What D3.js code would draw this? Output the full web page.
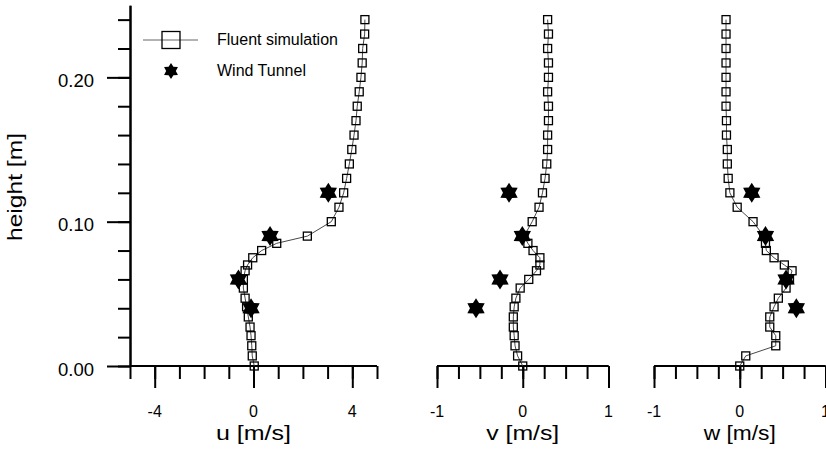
<!DOCTYPE html>
<html><head><meta charset="utf-8">
<script src="https://cdn.jsdelivr.net/npm/d3@7"></script>
<style>
body{margin:0;background:#fff}
svg{display:block;font-family:"Liberation Sans",Arial,Helvetica,sans-serif}
</style>
</head><body>
<svg id="chart" width="826" height="453"></svg>
<script>
// ---- data ----
const heights = [0, 0.007, 0.014, 0.021, 0.027, 0.034, 0.041, 0.047, 0.054, 0.060, 0.066, 0.070, 0.075, 0.080, 0.085, 0.090,
  0.10, 0.11, 0.12, 0.13, 0.14, 0.15, 0.16, 0.17, 0.18, 0.19, 0.20, 0.21, 0.22, 0.23, 0.24];
const uSim = [0.03, -0.05, -0.07, -0.10, -0.14, -0.21, -0.28, -0.34, -0.41, -0.41, -0.34, -0.24, -0.03, 0.33, 0.94, 2.18,
  3.15, 3.46, 3.65, 3.77, 3.88, 3.98, 4.07, 4.15, 4.20, 4.28, 4.35, 4.40, 4.42, 4.50, 4.51];
const vSim = [0.0, -0.06, -0.09, -0.10, -0.11, -0.11, -0.10, -0.08, -0.03, 0.07, 0.16, 0.20, 0.20, 0.12, 0.06, 0.015,
  0.11, 0.19, 0.23, 0.26, 0.28, 0.29, 0.29, 0.30, 0.30, 0.29, 0.30, 0.30, 0.29, 0.30, 0.29];
const wSim = [0.0, 0.07, 0.42, 0.42, 0.35, 0.35, 0.40, 0.45, 0.54, 0.58, 0.61, 0.52, 0.40, 0.31, 0.30, 0.28,
  0.155, -0.03, -0.115, -0.135, -0.145, -0.145, -0.155, -0.155, -0.16, -0.16, -0.16, -0.16, -0.16, -0.16, -0.16];
const tunnelHeights = [0.12, 0.09, 0.06, 0.04];
const uTunnel = [3.03, 0.67, -0.61, -0.10];
const vTunnel = [-0.16, -0.005, -0.265, -0.545];
const wTunnel = [0.14, 0.30, 0.54, 0.66];
const yTicksMajor = [0, 0.1, 0.2];
const yTickLabels = ["0.00", "0.10", "0.20"];
const yTicksMinor = d3.range(0, 0.2401, 0.02);
const uTicksMinor = d3.range(-5, 5.01, 1);
const uTicksMajor = [-4, 0, 4];
const uTickLabels = ["-4", "0", "4"];
const vwTicksMinor = d3.range(-1, 1.001, 0.25);
const vwTicksMajor = [-1, 0, 1];
const vwTickLabels = ["-1", "0", "1"];
const legendLabels = ["Fluent simulation", "Wind Tunnel"];

// ---- layout ----
const svg = d3.select("#chart");
const y = d3.scaleLinear().domain([0, 0.25]).range([366, 5.2]);
const panels = [
  {sim: uSim, tun: uTunnel, dom: [-5, 5], range: [130, 377], minor: uTicksMinor, major: uTicksMajor, labels: uTickLabels, title: "u [m/s]", tl: 75},
  {sim: vSim, tun: vTunnel, dom: [-1, 1], range: [437, 608.5], minor: vwTicksMinor, major: vwTicksMajor, labels: vwTickLabels, title: "v [m/s]", tl: 73},
  {sim: wSim, tun: wTunnel, dom: [-1, 1], range: [654, 825.5], minor: vwTicksMinor, major: vwTicksMajor, labels: vwTickLabels, title: "w [m/s]", tl: 72}
];

function hexagram(R) {
  const r = R / Math.sqrt(3) * 1.05;
  const pts = [];
  for (let i = 0; i < 12; i++) {
    const a = -Math.PI / 2 + i * Math.PI / 6;
    const rad = i % 2 === 0 ? R : r;
    pts.push([rad * Math.cos(a), rad * Math.sin(a)]);
  }
  return "M" + pts.map(p => p[0].toFixed(2) + "," + p[1].toFixed(2)).join("L") + "Z";
}

// y axis (panel 1 only)
const yAxisMinor = d3.axisLeft(y).tickValues(yTicksMinor).tickSize(12).tickSizeOuter(0).tickFormat("");
const yAxisMajor = d3.axisLeft(y).tickValues(yTicksMajor).tickSize(23).tickSizeOuter(0).tickFormat("");
const gy = svg.append("g").attr("transform", "translate(130,0)");
gy.call(yAxisMinor);
gy.append("g").call(yAxisMajor);
gy.selectAll("path,line").attr("stroke", "#000").attr("stroke-width", 2);
svg.selectAll(".ylab").data(yTicksMajor).enter().append("text")
  .attr("x", 94).attr("y", d => y(d) + 9.5)
  .attr("text-anchor", "end").attr("font-size", 18.5).attr("fill", "#000")
  .text((d, i) => yTickLabels[i]);
svg.append("text").attr("transform", "translate(22,187) rotate(-90)")
  .attr("text-anchor", "middle").attr("font-size", 21).attr("fill", "#000")
  .attr("textLength", 108).attr("lengthAdjust", "spacingAndGlyphs")
  .text("height [m]");

panels.forEach((p, pi) => {
  const x = d3.scaleLinear().domain(p.dom).range(p.range);
  const g = svg.append("g").attr("transform", "translate(0,366)");
  g.call(d3.axisBottom(x).tickValues(p.minor).tickSize(13).tickSizeOuter(0).tickFormat(""));
  g.append("g").call(d3.axisBottom(x).tickValues(p.major).tickSize(22).tickSizeOuter(0).tickFormat(""));
  g.selectAll("path,line").attr("stroke", "#000").attr("stroke-width", 2);
  g.selectAll("path.domain").attr("d", `M${p.range[0]},0H${p.range[1]}`);
  svg.append("g").selectAll("text").data(p.major).enter().append("text")
    .attr("x", d => x(d)).attr("y", 417)
    .attr("text-anchor", "middle").attr("font-size", 16).attr("fill", "#000")
    .text((d, i) => p.labels[i]);
  svg.append("text").attr("x", x(0)).attr("y", 440)
    .attr("text-anchor", "middle").attr("font-size", 20).attr("fill", "#000")
    .attr("textLength", p.tl).attr("lengthAdjust", "spacingAndGlyphs")
    .text(p.title);

  const pts = heights.map((h, i) => [x(p.sim[i]), y(h)]);
  svg.append("path").attr("d", d3.line()(pts))
    .attr("fill", "none").attr("stroke", "#333").attr("stroke-width", 0.9);
  svg.append("g").selectAll("rect").data(pts).enter().append("rect")
    .attr("x", d => d[0] - 4).attr("y", d => d[1] - 4)
    .attr("width", 8).attr("height", 8)
    .attr("fill", "none").attr("stroke", "#000").attr("stroke-width", 1.3);
  svg.append("g").selectAll("path").data(tunnelHeights).enter().append("path")
    .attr("d", hexagram(10))
    .attr("transform", (h, i) => `translate(${x(p.tun[i])},${y(h)})`)
    .attr("fill", "#000");
});

// legend
const lg = svg.append("g");
lg.append("line").attr("x1", 143).attr("x2", 198).attr("y1", 40).attr("y2", 40)
  .attr("stroke", "#555").attr("stroke-width", 0.9);
lg.append("rect").attr("x", 162).attr("y", 31.5).attr("width", 18).attr("height", 17)
  .attr("fill", "none").attr("stroke", "#000").attr("stroke-width", 1.3);
lg.append("path").attr("d", hexagram(8)).attr("transform", "translate(171,71)").attr("fill", "#000");
lg.selectAll("text").data(legendLabels).enter().append("text")
  .attr("x", 217).attr("y", (d, i) => i === 0 ? 45 : 76)
  .attr("font-size", 16).attr("fill", "#000").text(d => d);
</script>
</body></html>
